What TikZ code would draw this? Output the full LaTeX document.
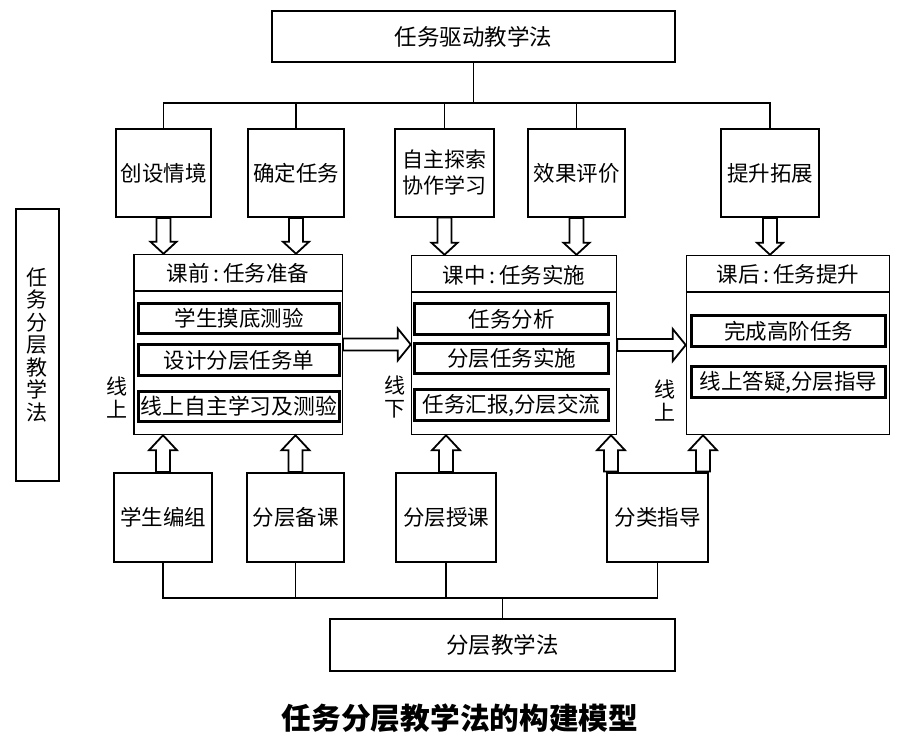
\documentclass[tikz,border=0pt]{standalone}
\usepackage{fontspec}
\newfontfamily\cjk{Noto Sans CJK SC}
\usetikzlibrary{calc}
\tikzset{
  base/.style={inner sep=0pt, font=\cjk\fontsize{21.5}{24}\selectfont, align=center},
  topbox/.style={base, draw, line width=1.8pt, font=\cjk\fontsize{22.5}{24}\selectfont},
  smallbox/.style={base, draw, line width=2pt},
  bigbox/.style={draw, line width=1.5pt, inner sep=0pt},
  innerbox/.style={base, draw, line width=3.2pt},
  conn/.style={line width=1.2pt},
  harrow/.style={draw, line width=1.8pt, fill=white, line join=miter},
  lbl/.style={base, font=\cjk\fontsize{21}{23}\selectfont}
}
\newcommand\hdown[2]{\draw[harrow] ($(#1)+(-7,0)$) -- ($(#2)+(-7,-12)$) -- ($(#2)+(-13,-12)$) -- (#2) -- ($(#2)+(13,-12)$) -- ($(#2)+(7,-12)$) -- ($(#1)+(7,0)$) -- cycle;}
\newcommand\hup[2]{\draw[harrow] ($(#1)+(-7,0)$) -- ($(#2)+(-7,15)$) -- ($(#2)+(-14,15)$) -- (#2) -- ($(#2)+(14,15)$) -- ($(#2)+(7,15)$) -- ($(#1)+(7,0)$) -- cycle;}
\newcommand\hright[2]{\draw[harrow] ($(#1)+(0,-6)$) -- ($(#2)+(-13,-6)$) -- ($(#2)+(-13,-16)$) -- (#2) -- ($(#2)+(-13,16)$) -- ($(#2)+(-13,6)$) -- ($(#1)+(0,6)$) -- cycle;}
\begin{document}
\begin{tikzpicture}[x=1pt,y=-1pt]
\useasboundingbox[fill=white] (0,0) rectangle (918,745);

% top
\node[topbox, minimum width=403pt, minimum height=51pt] (T) at (473.5,36.5) {任务驱动教学法};
\node[smallbox, minimum width=95pt, minimum height=88pt] (a1) at (163.5,173) {创设情境};
\node[smallbox, minimum width=96pt, minimum height=88pt] (a2) at (296,173) {确定任务};
\node[smallbox, minimum width=99pt, minimum height=88pt, font=\cjk\fontsize{21}{26}\selectfont] (a3) at (444.5,172.5) {自主探索\\协作学习};
\node[smallbox, minimum width=97pt, minimum height=88pt] (a4) at (576.5,173) {效果评价};
\node[smallbox, minimum width=98pt, minimum height=88pt] (a5) at (770,173) {提升拓展};

% big boxes
\node[bigbox, minimum width=208.5pt, minimum height=180pt] (P1) at (238,344.5) {};
\node[bigbox, minimum width=205pt, minimum height=179pt] (P2) at (514,345) {};
\node[bigbox, minimum width=203pt, minimum height=179pt] (P3) at (788,345) {};
\foreach \p in {P1,P2,P3}{
  \draw[line width=1.5pt] ($(\p.north west)+(0,37)$) -- ($(\p.north east)+(0,37)$);
}
\node[base] (h1) at ($(P1.north)+(0,20)$) {课前\,:\,任务准备};
\node[base] (h2) at ($(P2.north)+(0,20)$) {课中\,:\,任务实施};
\node[base] (h3) at ($(P3.north)+(0,20)$) {课后\,:\,任务提升};

% inner boxes
\node[innerbox, minimum width=201pt, minimum height=30pt] (i11) at (239,318.5) {学生摸底测验};
\node[innerbox, minimum width=201pt, minimum height=31pt] (i12) at (239,360) {设计分层任务单};
\node[innerbox, minimum width=201pt, minimum height=30pt, font=\cjk\fontsize{21.8}{24}\selectfont] (i13) at (239,406.5) {线上自主学习及测验};
\node[innerbox, minimum width=194pt, minimum height=31pt] (i21) at (511.5,319) {任务分析};
\node[innerbox, minimum width=194pt, minimum height=30pt] (i22) at (511.5,358.5) {分层任务实施};
\node[innerbox, minimum width=194pt, minimum height=31pt] (i23) at (511.5,405) {任务汇报,分层交流};
\node[innerbox, minimum width=194pt, minimum height=31pt] (i31) at (788.5,331) {完成高阶任务};
\node[innerbox, minimum width=194pt, minimum height=31pt] (i32) at (788.5,382) {线上答疑,分层指导};

% side labels
\node[lbl] (l1) at (117,397) {线\\上};
\node[lbl] (l2) at (395,397) {线\\下};
\node[lbl] (l3) at (665,400) {线\\上};

% left tall box
\node[smallbox, minimum width=43pt, minimum height=272pt, font=\cjk\fontsize{21}{22.5}\selectfont] (L) at (37.5,345) {任\\务\\分\\层\\教\\学\\法};

% bottom boxes
\node[smallbox, minimum width=98pt, minimum height=89pt] (b1) at (163,517.5) {学生编组};
\node[smallbox, minimum width=97pt, minimum height=89pt] (b2) at (295.5,517.5) {分层备课};
\node[smallbox, minimum width=100pt, minimum height=89pt] (b3) at (446,517.5) {分层授课};
\node[smallbox, minimum width=101pt, minimum height=89pt] (b4) at (657.5,517) {分类指导};
\node[topbox, minimum width=345pt, minimum height=52pt] (B) at (502.5,645) {分层教学法};

% caption
\node[inner sep=0pt, font=\cjk\bfseries\fontsize{29.7}{32}\selectfont] (cap) at (460,718) {任务分层教学法的构建模型};

% thin connectors
\coordinate (hy) at (0,103);
\draw[conn] (T.south) -- (T.south |- hy);
\draw[conn] (a1.north) -- (a1.north |- hy) -- (a5.north |- hy) -- (a5.north);
\foreach \n in {a2,a3,a4} \draw[conn] (\n.north) -- (\n.north |- hy);
\coordinate (ly) at (0,598);
\draw[conn] (b1.south) -- (b1.south |- ly) -- (b4.south |- ly) -- (b4.south);
\foreach \n in {b2,b3} \draw[conn] (\n.south) -- (\n.south |- ly);
\draw[conn] (B.north) -- (B.north |- ly);

% hollow arrows down
\coordinate (d1) at (a1.south |- P1.north);
\coordinate (d2) at (a2.south |- P1.north);
\coordinate (d3) at (a3.south |- P2.north);
\coordinate (d4) at (a4.south |- P2.north);
\coordinate (d5) at (a5.south |- P3.north);
\hdown{a1.south}{d1}
\hdown{a2.south}{d2}
\hdown{a3.south}{d3}
\hdown{a4.south}{d4}
\hdown{a5.south}{d5}

% hollow arrows up
\coordinate (u1) at (b1.north |- P1.south);
\coordinate (u2) at (b2.north |- P1.south);
\coordinate (u3) at (b3.north |- P2.south);
\coordinate (b4l) at ($(b4.north west)+(5,0)$);
\coordinate (b4r) at ($(b4.north east)+(-6,0)$);
\coordinate (u4) at (b4l |- P2.south);
\coordinate (u5) at (b4r |- P3.south);
\hup{b1.north}{u1}
\hup{b2.north}{u2}
\hup{b3.north}{u3}
\hup{b4l}{u4}
\hup{b4r}{u5}

% hollow arrows right
\coordinate (r1) at (P2.west |- P1.east);
\coordinate (r2) at (P3.west |- P2.east);
\hright{P1.east}{r1}
\hright{P2.east}{r2}
\end{tikzpicture}
\end{document}
